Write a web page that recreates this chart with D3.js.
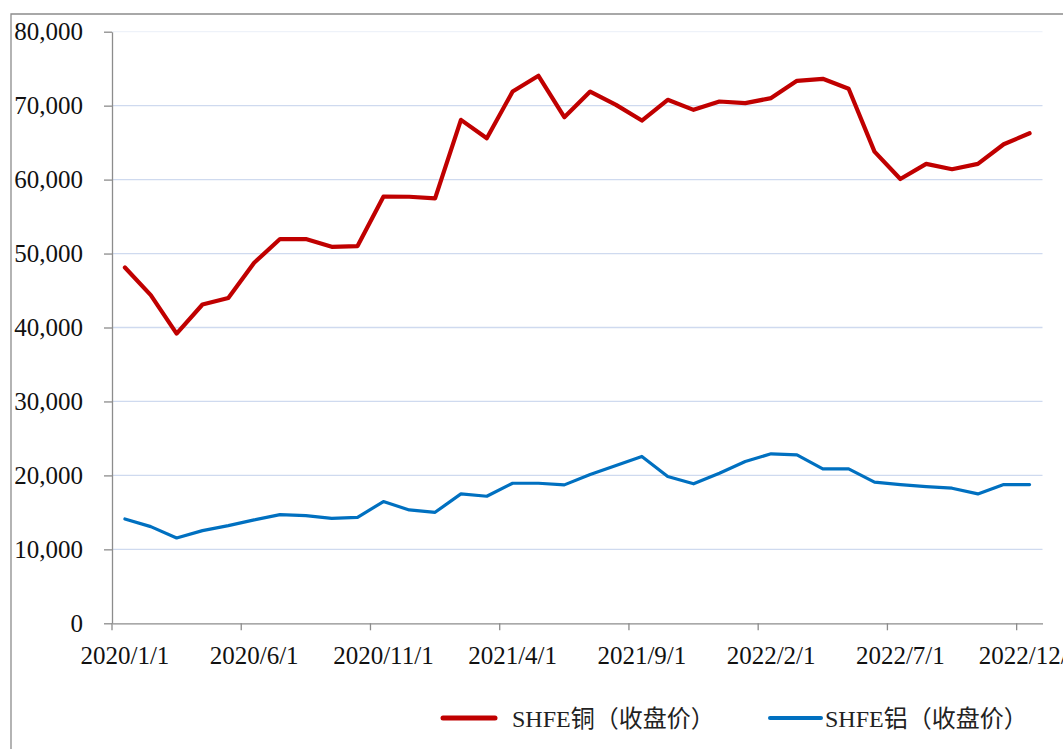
<!DOCTYPE html>
<meta charset="utf-8">
<style>

html, body {
  margin: 0;
  background: #fff;
}

.grid line {
  stroke: #cfdaef;
  stroke-width: 1.3px;
}

.axis path, .axis line {
  stroke: #8c8c8c;
  stroke-width: 1.3px;
}

.axis text {
  font-family: "Liberation Serif", "Times New Roman", serif;
  font-size: 25px;
  fill: #111;
}

.legend text {
  font-family: "Liberation Serif", "Noto Sans CJK SC", serif;
  font-size: 24px;
  fill: #222;
}

</style>
<body><svg width="1063" height="749"></svg></body>
<script src="https://d3js.org/d3.v7.min.js"></script>
<script>

var months = ["2020/1/1","2020/2/1","2020/3/1","2020/4/1","2020/5/1","2020/6/1","2020/7/1","2020/8/1","2020/9/1","2020/10/1","2020/11/1","2020/12/1",
  "2021/1/1","2021/2/1","2021/3/1","2021/4/1","2021/5/1","2021/6/1","2021/7/1","2021/8/1","2021/9/1","2021/10/1","2021/11/1","2021/12/1",
  "2022/1/1","2022/2/1","2022/3/1","2022/4/1","2022/5/1","2022/6/1","2022/7/1","2022/8/1","2022/9/1","2022/10/1","2022/11/1","2022/12/1"];

// SHFE铜 closing price
var copper = [48120, 44370, 39180, 43110, 44000, 48750, 51960, 51960, 50910, 51010, 57690, 57680,
  57470, 68080, 65590, 71910, 74040, 68440, 71910, 70110, 67990, 70790, 69430, 70560,
  70340, 71020, 73360, 73630, 72280, 63780, 60080, 62120, 61400, 62120, 64780, 66270];

// SHFE铝 closing price
var aluminium = [14110, 13070, 11540, 12530, 13210, 13980, 14700, 14560, 14200, 14330, 16460, 15330,
  15010, 17500, 17180, 18940, 18940, 18720, 20120, 21340, 22560, 19850, 18860, 20300,
  21880, 22920, 22780, 20890, 20890, 19080, 18760, 18490, 18270, 17500, 18760, 18760];

var xTicks = ["2020/1/1","2020/6/1","2020/11/1","2021/4/1","2021/9/1","2022/2/1","2022/7/1","2022/12/1"];
var yTicks = [0, 10000, 20000, 30000, 40000, 50000, 60000, 70000, 80000];

var seriesNames = ["SHFE铜（收盘价）", "SHFE铝（收盘价）"];
var seriesColors = ["#c00000", "#0070c0"];

var svg = d3.select("svg"),
    width = +svg.attr("width"),
    height = +svg.attr("height");

var plotLeft = 112, plotRight = 1042.5, plotTop = 31.7, plotBottom = 623.3;

var x = d3.scaleBand().domain(months).range([plotLeft, plotRight]).padding(0);
var y = d3.scaleLinear().domain([0, 80000]).range([plotBottom, plotTop]);

// outer frame (only top and left edges are visible in the crop)
svg.append("path")
    .attr("d", "M11,749V14H1063")
    .attr("fill", "none")
    .attr("stroke", "#8c8c8c")
    .attr("stroke-width", 1.3);

svg.append("g")
    .attr("class", "grid")
  .selectAll("line")
  .data(yTicks.filter(function(d) { return d > 0; }))
  .enter().append("line")
    .attr("x1", plotLeft)
    .attr("x2", plotRight)
    .attr("y1", function(d) { return y(d); })
    .attr("y2", function(d) { return y(d); })
    .attr("stroke-opacity", function(d) { return d === 80000 ? 0.35 : 1; });

svg.append("g")
    .attr("class", "axis")
    .attr("transform", "translate(" + plotLeft + ",0)")
    .call(d3.axisLeft(y)
      .tickValues(yTicks)
      .tickFormat(d3.format(","))
      .tickSize(8)
      .tickSizeOuter(0)
      .tickPadding(21));

var xAxis = svg.append("g")
    .attr("class", "axis")
    .attr("transform", "translate(0," + plotBottom + ")")
    .call(d3.axisBottom(x)
      .tickValues(xTicks)
      .tickSize(0)
      .tickSizeOuter(0)
      .tickPadding(23));

// tick marks sit on the category boundaries
xAxis.selectAll(".boundary")
  .data(xTicks)
  .enter().append("line")
    .attr("class", "boundary")
    .attr("x1", function(d) { return x(d); })
    .attr("x2", function(d) { return x(d); })
    .attr("y1", 0)
    .attr("y2", 7);

var line = d3.line()
    .x(function(d, i) { return x(months[i]) + x.bandwidth() / 2; })
    .y(function(d) { return y(d); });

svg.append("path")
    .datum(aluminium)
    .attr("fill", "none")
    .attr("stroke", seriesColors[1])
    .attr("stroke-width", 3.2)
    .attr("stroke-linejoin", "round")
    .attr("stroke-linecap", "round")
    .attr("d", line);

svg.append("path")
    .datum(copper)
    .attr("fill", "none")
    .attr("stroke", seriesColors[0])
    .attr("stroke-width", 4.2)
    .attr("stroke-linejoin", "round")
    .attr("stroke-linecap", "round")
    .attr("d", line);

var legend = svg.append("g").attr("class", "legend");
var legendPos = [{x1: 443, x2: 495, tx: 512}, {x1: 770, x2: 821, tx: 825}];

legend.selectAll("line")
  .data(seriesNames)
  .enter().append("line")
    .attr("x1", function(d, i) { return legendPos[i].x1; })
    .attr("x2", function(d, i) { return legendPos[i].x2; })
    .attr("y1", 718)
    .attr("y2", 718)
    .attr("stroke", function(d, i) { return seriesColors[i]; })
    .attr("stroke-width", function(d, i) { return i === 0 ? 5 : 4; })
    .attr("stroke-linecap", "round");

legend.selectAll("text")
  .data(seriesNames)
  .enter().append("text")
    .attr("x", function(d, i) { return legendPos[i].tx; })
    .attr("y", 718)
    .attr("dy", "0.36em")
    .text(function(d) { return d; });

</script>
